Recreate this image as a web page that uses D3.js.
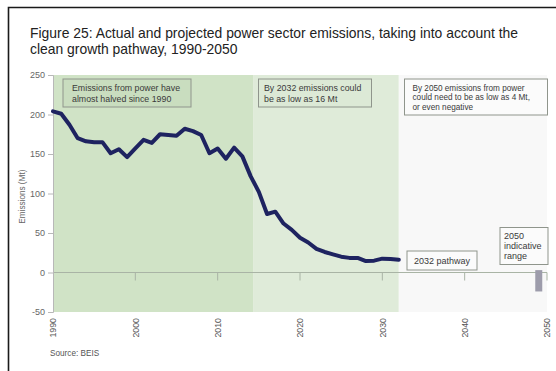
<!DOCTYPE html>
<html>
<head>
<meta charset="utf-8">
<script src="https://cdn.jsdelivr.net/npm/d3@7"></script>
<style>
  html, body { margin: 0; padding: 0; background: #fff; }
  svg { display: block; font-family: "Liberation Sans", Arial, sans-serif; }
</style>
</head>
<body>
<svg id="chart" width="556" height="371"></svg>
<script>
// Power sector emissions (MtCO2e), actual to 2016 then the clean growth pathway to 2032
const years = [1990,1991,1992,1993,1994,1995,1996,1997,1998,1999,
               2000,2001,2002,2003,2004,2005,2006,2007,2008,2009,
               2010,2011,2012,2013,2014,2015,2016,2017,2018,2019,
               2020,2021,2022,2023,2024,2025,2026,2027,2028,2029,
               2030,2031,2032];
const emissions = [204,201,187,170,166,165,165,151,156,146,
                   157,168,164,175,174,173,182,179,174,151,
                   157,144,158,147,122,102,74,77,62,54,
                   44,38,30,26,23,20,18.5,18.5,14.5,15,
                   17.5,17,16];

// Shaded periods: [start, end]
const periodStarts = [1990, 2014.3, 2032];
const periodEnds   = [2014.3, 2032, 2050];

// 2050 indicative range (Mt)
const range2050 = [3, -24];

const yTicks = [-50, 0, 50, 100, 150, 200, 250];
const xTicks = [1990, 2000, 2010, 2020, 2030, 2040, 2050];

const svg = d3.select("#chart");

// outer frame
svg.append("path").attr("d", "M8.5,371 V7.5 H556")
  .attr("fill", "none").attr("stroke", "#1a1a1a").attr("stroke-width", 1.6);

// title
const title = svg.append("text").attr("x", 30).attr("fill", "#222")
  .attr("font-size", 13.9);
title.append("tspan").attr("x", 30).attr("y", 38)
  .text("Figure 25: Actual and projected power sector emissions, taking into account the");
title.append("tspan").attr("x", 30).attr("y", 54)
  .text("clean growth pathway, 1990-2050");

const x = d3.scaleLinear().domain([1990, 2050]).range([53, 547]);
const y = d3.scaleLinear().domain([-50, 250]).range([312, 75]);

// period backgrounds
const periodFills = ["#d0e3c6", "#dfebd9", "#f8f8f8"];
svg.append("g").selectAll("rect").data(periodStarts).join("rect")
  .attr("x", (d) => x(d))
  .attr("width", (d, i) => x(periodEnds[i]) - x(d))
  .attr("y", y(250))
  .attr("height", y(-50) - y(250))
  .attr("fill", (d, i) => periodFills[i]);

// zero line with decade ticks
svg.append("line")
  .attr("x1", x(1990)).attr("x2", x(2050))
  .attr("y1", y(0)).attr("y2", y(0))
  .attr("stroke", "#a9b4a5").attr("stroke-width", 1);
svg.append("g").selectAll("line").data(xTicks.slice(1)).join("line")
  .attr("x1", (d) => x(d)).attr("x2", (d) => x(d))
  .attr("y1", y(0)).attr("y2", y(0) + 8)
  .attr("stroke", "#a9b4a5").attr("stroke-width", 1);

// y axis
const yAxis = svg.append("g")
  .attr("transform", `translate(${x(1990)},0)`)
  .call(d3.axisLeft(y).tickValues(yTicks).tickSize(5).tickPadding(3)
    .tickFormat((d) => String(d)));
yAxis.select(".domain").attr("stroke", "#b8b8b8");
yAxis.selectAll(".tick line").attr("stroke", "#b8b8b8");
yAxis.selectAll(".tick text").attr("fill", "#666").attr("font-size", 9)
  .attr("font-family", "Liberation Sans, Arial, sans-serif");

svg.append("text")
  .attr("transform", `translate(25,${y(96)}) rotate(-90)`)
  .attr("text-anchor", "middle").attr("fill", "#666").attr("font-size", 8.2)
  .text("Emissions (Mt)");

// x tick labels, rotated
svg.append("g").selectAll("text").data(xTicks).join("text")
  .attr("transform", (d) => `translate(${x(d) + 3.2},318) rotate(-90)`)
  .attr("text-anchor", "end").attr("fill", "#555").attr("font-size", 8.8)
  .text((d) => d);

// 2050 range bar
svg.append("rect")
  .attr("x", x(2049) - 3.5).attr("width", 7)
  .attr("y", y(range2050[0]))
  .attr("height", y(range2050[1]) - y(range2050[0]))
  .attr("fill", "#9d9cab");

// emissions line
const line = d3.line().x((d, i) => x(years[i])).y((d) => y(d));
svg.append("path").datum(emissions)
  .attr("d", line)
  .attr("fill", "none").attr("stroke", "#1e2360")
  .attr("stroke-width", 4)
  .attr("stroke-linejoin", "round").attr("stroke-linecap", "round");

// annotation boxes
const notes = [
  { x0: 63, y0: 79, w: 128, h: 28, fill: "#c9ddbf", fs: 8.8, tx: 72, ty: 90.5, lh: 11, lines: ["Emissions from power have", "almost halved since 1990"] },
  { x0: 258.5, y0: 79, w: 113, h: 28, fill: "#dce9d6", fs: 8.8, tx: 264, ty: 90.5, lh: 11, lines: ["By 2032 emissions could", "be as low as 16 Mt"] },
  { x0: 404.5, y0: 79, w: 143, h: 36, fill: "#fbfbfb", fs: 8.2, tx: 412.5, ty: 91, lh: 9.4, lines: ["By 2050 emissions from power", "could need to be as low as 4 Mt,", "or even negative"] },
  { x0: 407, y0: 251, w: 70, h: 19, fill: "#fbfbfb", fs: 9, tx: 414, ty: 264, lh: 10, lines: ["2032 pathway"] },
  { x0: 500, y0: 227.5, w: 48, h: 37, fill: "#fbfbfb", fs: 9, tx: 504, ty: 239, lh: 10, lines: ["2050", "indicative", "range"] }
];
const ng = svg.append("g").selectAll("g").data(notes).join("g");
ng.append("rect")
  .attr("x", (d) => d.x0).attr("y", (d) => d.y0)
  .attr("width", (d) => d.w).attr("height", (d) => d.h)
  .attr("fill", (d) => d.fill).attr("stroke", "#8f958c").attr("stroke-width", 1);
ng.each(function (d) {
  const t = d3.select(this).append("text").attr("fill", "#3a3a3a").attr("font-size", d.fs);
  d.lines.forEach((s, i) => {
    t.append("tspan").attr("x", d.tx).attr("y", d.ty + i * d.lh).text(s);
  });
});

// source
svg.append("text").attr("x", 50).attr("y", 356)
  .attr("fill", "#555").attr("font-size", 8.2).text("Source: BEIS");
</script>
</body>
</html>
